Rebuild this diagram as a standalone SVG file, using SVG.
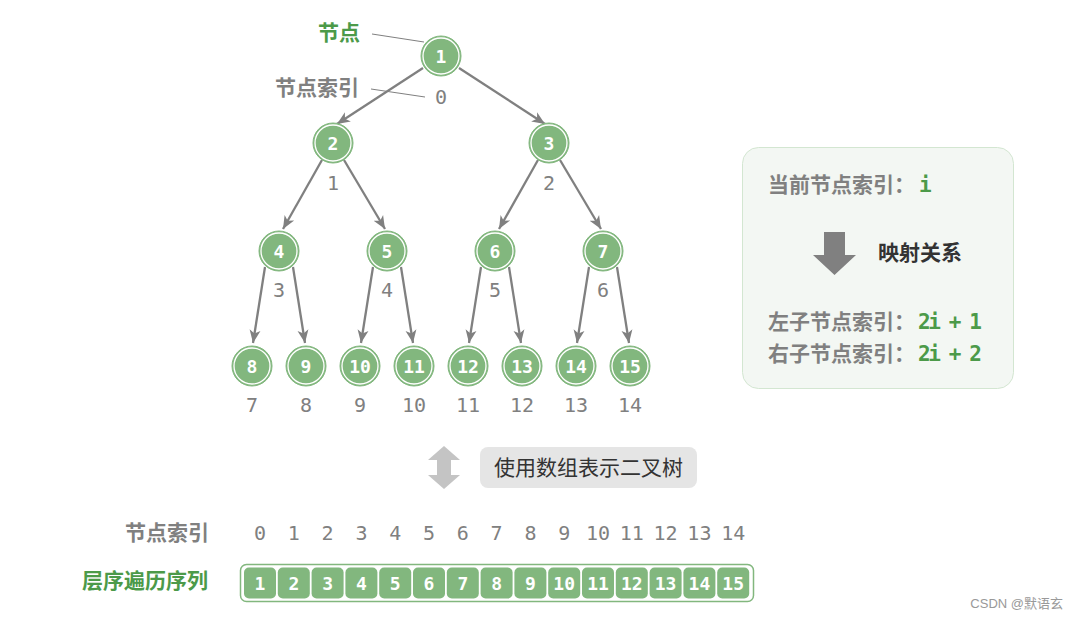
<svg xmlns="http://www.w3.org/2000/svg" width="1079" height="619" viewBox="0 0 1079 619">
<defs>
<marker id="ah" markerWidth="14" markerHeight="14" viewBox="0 0 14 14" refX="13" refY="7" orient="auto" markerUnits="userSpaceOnUse">
<path d="M0,1.5 L13,7 L0,12.5 L3.5,7 Z" fill="#808080"/>
</marker>
</defs>
<style>
.n circle.o{fill:#82b77e;stroke:#82b77e;stroke-width:1}
.n circle.i{fill:none;stroke:#ffffff;stroke-width:1.3}
.nt{font-family:"DejaVu Sans Mono",monospace;font-size:18px;font-weight:bold;fill:#ffffff;text-anchor:middle}
.ix{font-family:"DejaVu Sans Mono",monospace;font-size:20px;fill:#808080;text-anchor:middle}
.cj{font-family:"Noto Sans CJK SC",sans-serif;font-size:21px;font-weight:bold}
.gr{fill:#808080}
.gn{fill:#4c9a49}
.e line{stroke:#808080;stroke-width:2.3;marker-end:url(#ah)}
.cell{fill:#82b77e}
.mono{font-family:"DejaVu Sans Mono",monospace;font-weight:bold;fill:#4c9a49;font-size:21px}
</style>
<rect width="1079" height="619" fill="#ffffff"/>

<g id="connectors" class="e">
<line x1="423" y1="68" x2="337" y2="124"/>
<line x1="459" y1="68" x2="545" y2="124"/>
<line x1="322" y1="160" x2="283" y2="229"/>
<line x1="344" y1="160" x2="385" y2="229"/>
<line x1="538" y1="160" x2="499" y2="229"/>
<line x1="560" y1="160" x2="601" y2="229"/>
<line x1="265" y1="267" x2="253" y2="343"/>
<line x1="293" y1="267" x2="305" y2="343"/>
<line x1="373" y1="267" x2="361" y2="343"/>
<line x1="401" y1="267" x2="413" y2="343"/>
<line x1="481" y1="267" x2="469" y2="343"/>
<line x1="509" y1="267" x2="521" y2="343"/>
<line x1="589" y1="267" x2="577" y2="343"/>
<line x1="617" y1="267" x2="629" y2="343"/>
</g>

<g id="annotations">
<line x1="372" y1="34" x2="424" y2="42" stroke="#808080" stroke-width="1"/>
<line x1="371" y1="89" x2="425" y2="97" stroke="#808080" stroke-width="1"/>
<text x="360" y="40" class="cj gn" text-anchor="end">节点</text>
<text x="359" y="95" class="cj gr" text-anchor="end">节点索引</text>
</g>

<g id="node1" class="n"><circle class="o" cx="441" cy="56" r="20"/><circle class="i" cx="441" cy="56" r="18"/><text class="nt" x="441" y="62.5">1</text><text class="ix" x="441" y="104">0</text></g>
<g id="node2" class="n"><circle class="o" cx="333" cy="143" r="20"/><circle class="i" cx="333" cy="143" r="18"/><text class="nt" x="333" y="149.5">2</text><text class="ix" x="333" y="190">1</text></g>
<g id="node3" class="n"><circle class="o" cx="549" cy="143" r="20"/><circle class="i" cx="549" cy="143" r="18"/><text class="nt" x="549" y="149.5">3</text><text class="ix" x="549" y="190">2</text></g>
<g id="node4" class="n"><circle class="o" cx="279" cy="251" r="20"/><circle class="i" cx="279" cy="251" r="18"/><text class="nt" x="279" y="257.5">4</text><text class="ix" x="279" y="297">3</text></g>
<g id="node5" class="n"><circle class="o" cx="387" cy="251" r="20"/><circle class="i" cx="387" cy="251" r="18"/><text class="nt" x="387" y="257.5">5</text><text class="ix" x="387" y="297">4</text></g>
<g id="node6" class="n"><circle class="o" cx="495" cy="251" r="20"/><circle class="i" cx="495" cy="251" r="18"/><text class="nt" x="495" y="257.5">6</text><text class="ix" x="495" y="297">5</text></g>
<g id="node7" class="n"><circle class="o" cx="603" cy="251" r="20"/><circle class="i" cx="603" cy="251" r="18"/><text class="nt" x="603" y="257.5">7</text><text class="ix" x="603" y="297">6</text></g>
<g id="node8" class="n"><circle class="o" cx="252" cy="366" r="20"/><circle class="i" cx="252" cy="366" r="18"/><text class="nt" x="252" y="372.5">8</text><text class="ix" x="252" y="412">7</text></g>
<g id="node9" class="n"><circle class="o" cx="306" cy="366" r="20"/><circle class="i" cx="306" cy="366" r="18"/><text class="nt" x="306" y="372.5">9</text><text class="ix" x="306" y="412">8</text></g>
<g id="node10" class="n"><circle class="o" cx="360" cy="366" r="20"/><circle class="i" cx="360" cy="366" r="18"/><text class="nt" x="360" y="372.5">10</text><text class="ix" x="360" y="412">9</text></g>
<g id="node11" class="n"><circle class="o" cx="414" cy="366" r="20"/><circle class="i" cx="414" cy="366" r="18"/><text class="nt" x="414" y="372.5">11</text><text class="ix" x="414" y="412">10</text></g>
<g id="node12" class="n"><circle class="o" cx="468" cy="366" r="20"/><circle class="i" cx="468" cy="366" r="18"/><text class="nt" x="468" y="372.5">12</text><text class="ix" x="468" y="412">11</text></g>
<g id="node13" class="n"><circle class="o" cx="522" cy="366" r="20"/><circle class="i" cx="522" cy="366" r="18"/><text class="nt" x="522" y="372.5">13</text><text class="ix" x="522" y="412">12</text></g>
<g id="node14" class="n"><circle class="o" cx="576" cy="366" r="20"/><circle class="i" cx="576" cy="366" r="18"/><text class="nt" x="576" y="372.5">14</text><text class="ix" x="576" y="412">13</text></g>
<g id="node15" class="n"><circle class="o" cx="630" cy="366" r="20"/><circle class="i" cx="630" cy="366" r="18"/><text class="nt" x="630" y="372.5">15</text><text class="ix" x="630" y="412">14</text></g>

<g id="mapping">
<rect x="742.5" y="147.5" width="271" height="241" rx="16" fill="#f3f7f3" stroke="#d3e6d1" stroke-width="1"/>
<text x="768" y="192" class="cj gr">当前节点索引：</text>
<text x="919" y="192" class="mono">i</text>
<path d="M824,232 H845 V255 H856 L834.5,275 L813,255 H824 Z" fill="#808080"/>
<text x="878" y="260" class="cj" fill="#333333">映射关系</text>
<text x="768" y="329" class="cj gr">左子节点索引：</text>
<text x="918" y="329" class="mono" textLength="64" lengthAdjust="spacing">2i + 1</text>
<text x="768" y="361" class="cj gr">右子节点索引：</text>
<text x="918" y="361" class="mono" textLength="64" lengthAdjust="spacing">2i + 2</text>
</g>

<g id="repr">
<path d="M444,446 L460,460 H451 V475 H460 L444,489 L428,475 H437 V460 H428 Z" fill="#c4c4c4"/>
<rect x="480" y="447" width="217" height="41" rx="8" fill="#e5e5e5"/>
<text x="588.5" y="475" class="cj" fill="#333333" text-anchor="middle" style="font-weight:normal">使用数组表示二叉树</text>
</g>

<g id="index-row">
<text x="209" y="540" class="cj gr" text-anchor="end">节点索引</text>
<text class="ix" x="260" y="540">0</text>
<text class="ix" x="293.8" y="540">1</text>
<text class="ix" x="327.6" y="540">2</text>
<text class="ix" x="361.4" y="540">3</text>
<text class="ix" x="395.2" y="540">4</text>
<text class="ix" x="429" y="540">5</text>
<text class="ix" x="462.8" y="540">6</text>
<text class="ix" x="496.6" y="540">7</text>
<text class="ix" x="530.4" y="540">8</text>
<text class="ix" x="564.2" y="540">9</text>
<text class="ix" x="598" y="540">10</text>
<text class="ix" x="631.8" y="540">11</text>
<text class="ix" x="665.6" y="540">12</text>
<text class="ix" x="699.4" y="540">13</text>
<text class="ix" x="733.2" y="540">14</text>
</g>

<g id="array">
<text x="208" y="588" class="cj gn" text-anchor="end">层序遍历序列</text>
<rect x="240.5" y="564.5" width="513" height="37" rx="6" fill="#ffffff" stroke="#82b77e" stroke-width="1.5"/>
<rect class="cell" x="244" y="567.5" width="32" height="31" rx="5"/>
<rect class="cell" x="277.8" y="567.5" width="32" height="31" rx="5"/>
<rect class="cell" x="311.6" y="567.5" width="32" height="31" rx="5"/>
<rect class="cell" x="345.4" y="567.5" width="32" height="31" rx="5"/>
<rect class="cell" x="379.2" y="567.5" width="32" height="31" rx="5"/>
<rect class="cell" x="413" y="567.5" width="32" height="31" rx="5"/>
<rect class="cell" x="446.8" y="567.5" width="32" height="31" rx="5"/>
<rect class="cell" x="480.6" y="567.5" width="32" height="31" rx="5"/>
<rect class="cell" x="514.4" y="567.5" width="32" height="31" rx="5"/>
<rect class="cell" x="548.2" y="567.5" width="32" height="31" rx="5"/>
<rect class="cell" x="582" y="567.5" width="32" height="31" rx="5"/>
<rect class="cell" x="615.8" y="567.5" width="32" height="31" rx="5"/>
<rect class="cell" x="649.6" y="567.5" width="32" height="31" rx="5"/>
<rect class="cell" x="683.4" y="567.5" width="32" height="31" rx="5"/>
<rect class="cell" x="717.2" y="567.5" width="32" height="31" rx="5"/>
<text class="nt" x="260" y="589.5">1</text>
<text class="nt" x="293.8" y="589.5">2</text>
<text class="nt" x="327.6" y="589.5">3</text>
<text class="nt" x="361.4" y="589.5">4</text>
<text class="nt" x="395.2" y="589.5">5</text>
<text class="nt" x="429" y="589.5">6</text>
<text class="nt" x="462.8" y="589.5">7</text>
<text class="nt" x="496.6" y="589.5">8</text>
<text class="nt" x="530.4" y="589.5">9</text>
<text class="nt" x="564.2" y="589.5">10</text>
<text class="nt" x="598" y="589.5">11</text>
<text class="nt" x="631.8" y="589.5">12</text>
<text class="nt" x="665.6" y="589.5">13</text>
<text class="nt" x="699.4" y="589.5">14</text>
<text class="nt" x="733.2" y="589.5">15</text>
</g>

<text x="1063" y="608" font-family="'Liberation Sans','Noto Sans CJK SC',sans-serif" font-size="13" fill="#999999" text-anchor="end">CSDN @默语玄</text>
</svg>
